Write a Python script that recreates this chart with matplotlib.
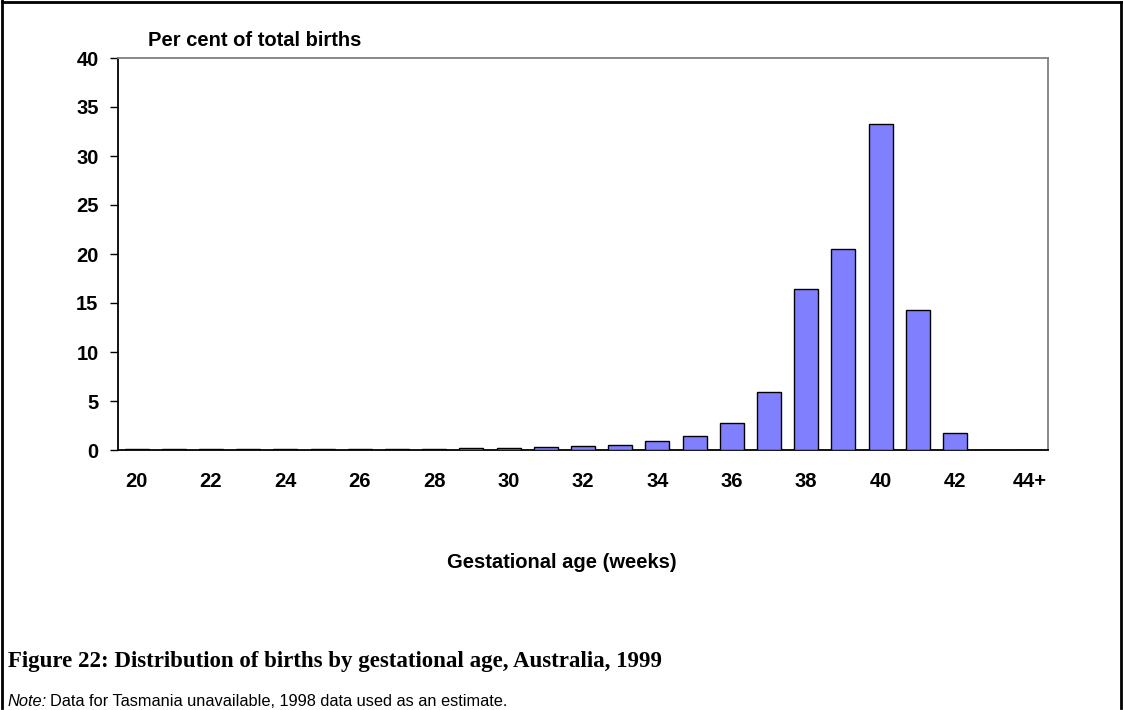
import matplotlib
matplotlib.use("Agg")
import matplotlib.pyplot as plt
from matplotlib.lines import Line2D

# Data
categories = [str(w) for w in range(20, 44)] + ["44+"]
values = [0.1, 0.1, 0.1, 0.1, 0.1, 0.1, 0.1, 0.1, 0.1, 0.2, 0.2, 0.3,
          0.4, 0.5, 0.9, 1.4, 2.8, 5.9, 16.4, 20.5, 33.3, 14.3, 1.7, 0.05, 0.03]
yticks = [0, 5, 10, 15, 20, 25, 30, 35, 40]
tick_labels = [c if i % 2 == 0 else "" for i, c in enumerate(categories)]

W, H = 1123, 710
fig = plt.figure(figsize=(W / 100, H / 100), dpi=100)
fig.patch.set_facecolor("white")

ax = fig.add_axes([118 / W, 1 - 450 / H, (1048 - 118) / W, (450 - 58) / H])
x = list(range(len(categories)))
ax.bar(x, values, width=0.65, color="#8080FF", edgecolor="black", linewidth=1.0, zorder=3)
ax.set_xlim(-0.5, len(categories) - 0.5)
ax.set_ylim(0, 40)
ax.set_yticks(yticks)
ax.set_yticklabels([str(v) for v in yticks], fontsize=14.5, fontweight="bold", family="Liberation Sans")
ax.set_xticks(x)
ax.set_xticklabels(tick_labels, fontsize=14.5, fontweight="bold", family="Liberation Sans")
ax.tick_params(axis="x", length=0, pad=16)
ax.tick_params(axis="y", length=6, width=1, direction="out", pad=8)
for s in ["left", "bottom"]:
    ax.spines[s].set_color("black")
    ax.spines[s].set_linewidth(1.3)
for s in ["top", "right"]:
    ax.spines[s].set_color("#808080")
    ax.spines[s].set_linewidth(1.3)

fig.text(148 / W, 1 - 40 / H, "Per cent of total births", fontsize=14.5, fontweight="bold",
         family="Liberation Sans", va="center", ha="left")
fig.text(562 / W, 1 - 562 / H, "Gestational age (weeks)", fontsize=14.5, fontweight="bold",
         family="Liberation Sans", va="center", ha="center")

fig.text(8 / W, 1 - 661 / H, "Figure 22: Distribution of births by gestational age, Australia, 1999",
         fontsize=16.5, fontweight="bold", family="Liberation Serif", va="center", ha="left")

t1 = fig.text(8 / W, 1 - 701 / H, "Note:", fontsize=11.8, style="italic",
              family="Liberation Sans", va="center", ha="left")
fig.canvas.draw()
bb = t1.get_window_extent(renderer=fig.canvas.get_renderer())
fig.text((bb.x1 + 3) / W, 1 - 701 / H, "Data for Tasmania unavailable, 1998 data used as an estimate.",
         fontsize=11.8, family="Liberation Sans", va="center", ha="left")

# outer border
for xs, ys in [([2, 2], [0, 708]), ([2, 1121], [2, 2]), ([1121, 1121], [2, 708])]:
    fig.add_artist(Line2D([v / W for v in xs], [1 - v / H for v in ys], color="black",
                          linewidth=2, transform=fig.transFigure))

fig.savefig("out.png", dpi=100)
